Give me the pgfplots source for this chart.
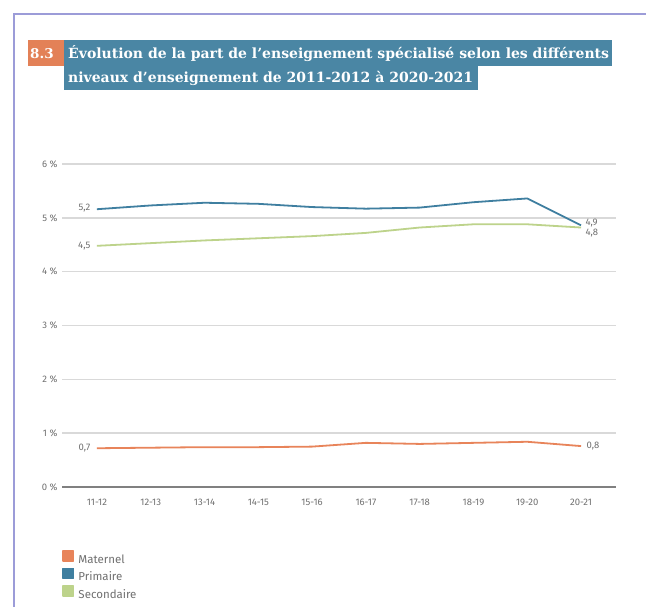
\documentclass[border=0pt]{standalone}
\usepackage{pgfplots}
\pgfplotsset{compat=1.18}
\usepackage{fontspec}
\setmainfont{Fira Sans}
\newfontfamily\titlefont{DejaVu Serif}
\definecolor{mat}{HTML}{E8845A}
\definecolor{pri}{HTML}{3F7FA0}
\definecolor{sec}{HTML}{BDD38B}
\definecolor{orbox}{HTML}{E38157}
\definecolor{bluebox}{HTML}{4A86A4}
\definecolor{framec}{HTML}{9C9CD8}
\definecolor{gridgray}{HTML}{D9D9D9}
\definecolor{zerogray}{HTML}{808080}
\definecolor{tickgray}{HTML}{707070}
\begin{document}
\begin{tikzpicture}
\path[use as bounding box] (0pt,0pt) rectangle (646pt,607pt);
\fill[white] (0pt,0pt) rectangle (646pt,607pt);
\draw[framec, line width=1.2pt] (14pt,0pt) -- (14pt,593pt) -- (646pt,593pt);
% title
\fill[orbox] (28pt,541pt) rectangle (64pt,567pt);
\fill[bluebox] (64pt,541pt) rectangle (612pt,567pt);
\fill[bluebox] (64pt,517pt) rectangle (478pt,541pt);
\node[anchor=base west, inner sep=0pt, text=white, font=\titlefont\bfseries\fontsize{13.5}{15}\selectfont] at (30pt,548pt) {8.3};
\node[anchor=base west, inner sep=0pt, text=white, font=\titlefont\bfseries\fontsize{14}{16}\selectfont] at (68pt,548pt) {Évolution de la part de l’enseignement spécialisé selon les différents};
\node[anchor=base west, inner sep=0pt, text=white, font=\titlefont\bfseries\fontsize{14}{16}\selectfont] at (68pt,524pt) {niveaux d’enseignement de 2011-2012 à 2020-2021};
\begin{axis}[
  at={(62pt,120pt)}, anchor=south west,
  scale only axis, width=554pt, height=323pt,
  xmin=-0.65, xmax=9.65, ymin=0, ymax=6,
  ytick={0,1,2,3,4,5,6},
  xtick={0,...,9},
  xticklabels={11-12,12-13,13-14,14-15,15-16,16-17,17-18,18-19,19-20,20-21},
  axis line style={draw=none},
  major tick length=0pt,
  ymajorgrids,
  grid style={gridgray, line width=1.5pt},
  yticklabel={\pgfmathprintnumber{\tick}~\%},
  /pgf/number format/assume math mode=true,
  ticklabel style={font=\fontsize{9.5}{11}\selectfont, text=tickgray},
  xticklabel style={yshift=-9pt},
  yticklabel style={xshift=-1pt},
  clip=false,
  legend cell align=left,
  legend style={draw=none, at={(0,-0.195)}, anchor=north west, inner sep=0pt,
     font=\fontsize{11.5}{13}\selectfont, text=tickgray, row sep=2.5pt,
     nodes={text height=8.5pt, text depth=1.5pt, inner sep=0pt},
     /tikz/every odd column/.append style={column sep=4pt}},
  legend image code/.code={\fill[#1] (0pt,-1pt) rectangle (10.5pt,9pt);},
  every axis plot/.append style={line width=1.8pt, line join=round},
]
\draw[zerogray, line width=2pt] (axis cs:-0.65,0) -- (axis cs:9.65,0);
\addplot[color=mat, no marks] coordinates {(0,0.72) (1,0.73) (2,0.74) (3,0.74) (4,0.75) (5,0.82) (6,0.80) (7,0.82) (8,0.84) (9,0.76)};
\addlegendentry{Maternel}
\addplot[color=pri, no marks] coordinates {(0,5.16) (1,5.23) (2,5.28) (3,5.26) (4,5.20) (5,5.17) (6,5.19) (7,5.29) (8,5.36) (9,4.86)};
\addlegendentry{Primaire}
\addplot[color=sec, no marks] coordinates {(0,4.48) (1,4.53) (2,4.58) (3,4.62) (4,4.66) (5,4.72) (6,4.82) (7,4.88) (8,4.88) (9,4.82)};
\addlegendentry{Secondaire}
\node[anchor=east, text=tickgray, font=\fontsize{9.5}{11}\selectfont, xshift=-3pt, yshift=1.5pt] at (axis cs:0,5.16) {5,2};
\node[anchor=east, text=tickgray, font=\fontsize{9.5}{11}\selectfont, xshift=-3pt] at (axis cs:0,4.48) {4,5};
\node[anchor=east, text=tickgray, font=\fontsize{9.5}{11}\selectfont, xshift=-3pt] at (axis cs:0,0.72) {0,7};
\node[anchor=west, text=tickgray, font=\fontsize{9.5}{11}\selectfont, xshift=1pt, yshift=2pt] at (axis cs:9,4.86) {4,9};
\node[anchor=west, text=tickgray, font=\fontsize{9.5}{11}\selectfont, xshift=1pt, yshift=-6pt] at (axis cs:9,4.82) {4,8};
\node[anchor=west, text=tickgray, font=\fontsize{9.5}{11}\selectfont, xshift=2pt] at (axis cs:9,0.76) {0,8};
\end{axis}
\end{tikzpicture}
\end{document}
